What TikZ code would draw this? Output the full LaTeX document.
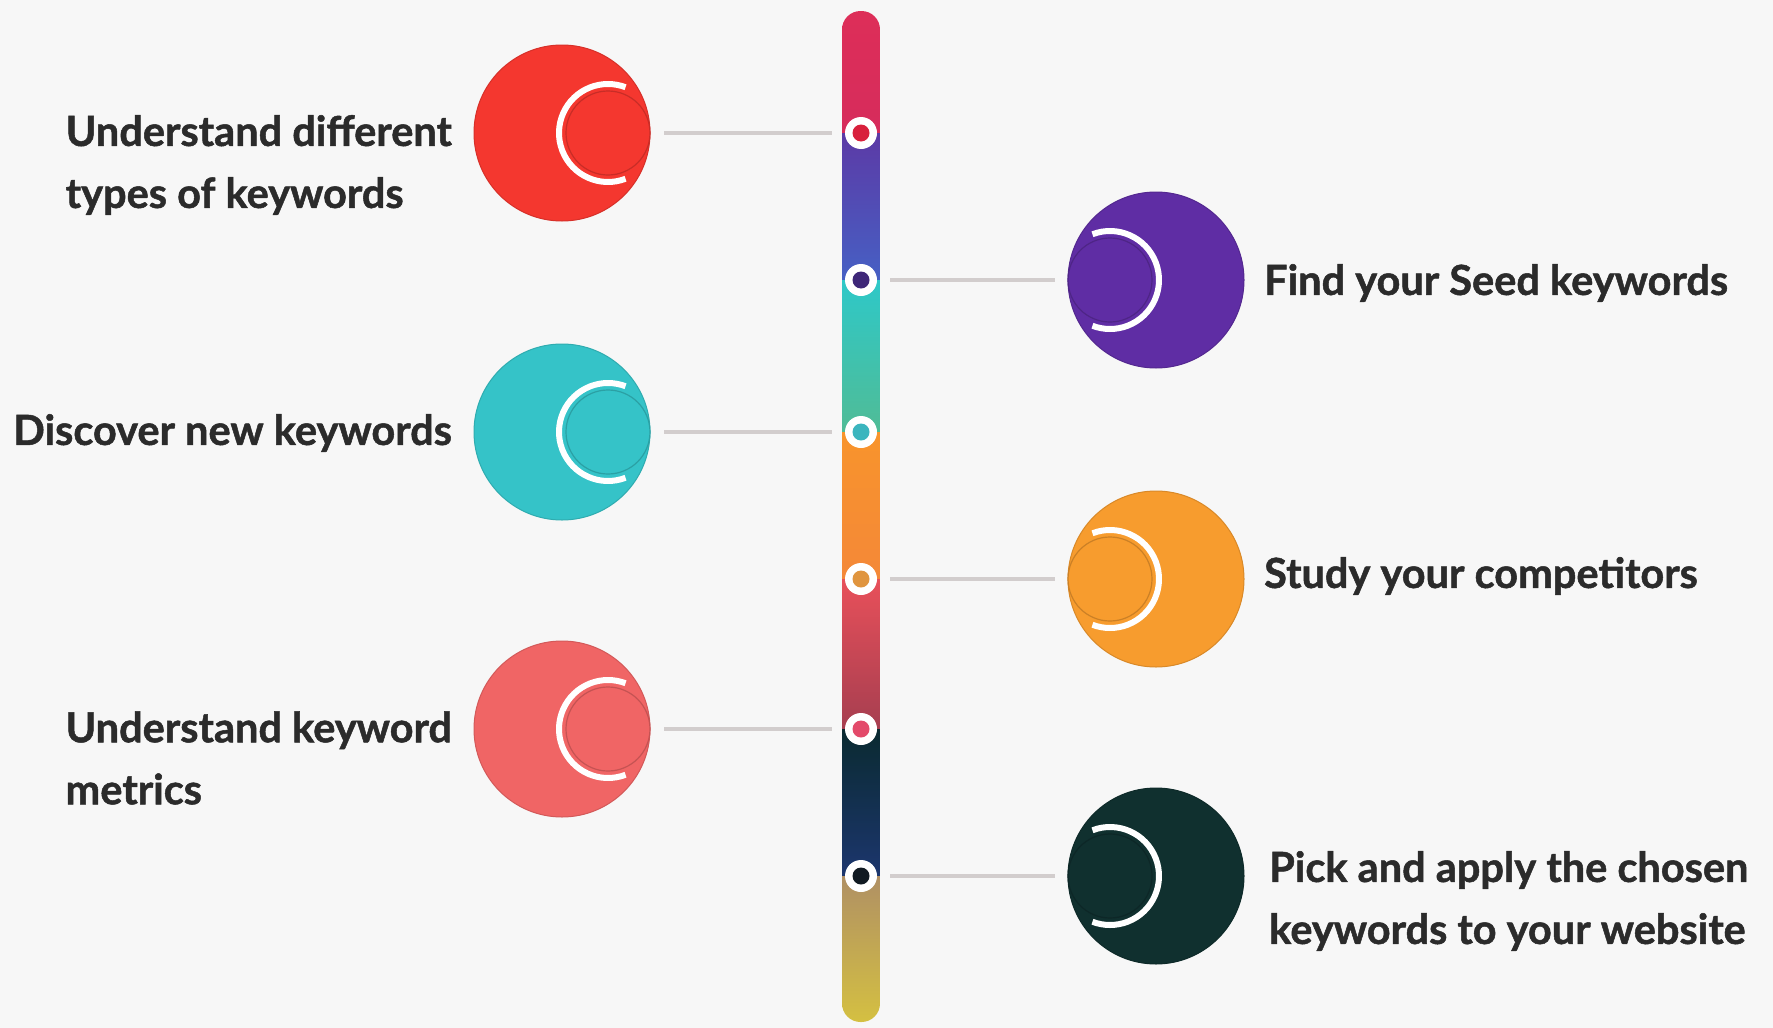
\documentclass[tikz,border=0pt]{standalone}
\usepackage{fontspec}
\setmainfont{Lato}[BoldFeatures={FakeBold=1.2}]
\usetikzlibrary{calc}
\definecolor{cRed}{HTML}{F4372F}
\definecolor{cPurple}{HTML}{5F2DA4}
\definecolor{cTeal}{HTML}{35C3C8}
\definecolor{cOrange}{HTML}{F79C2E}
\definecolor{cSalmon}{HTML}{F06565}
\definecolor{cDark}{HTML}{10302F}
\definecolor{dRed}{HTML}{D8203C}
\definecolor{dPurple}{HTML}{3E2778}
\definecolor{dTeal}{HTML}{3BB5BE}
\definecolor{dOrange}{HTML}{E0953F}
\definecolor{dSalmon}{HTML}{E34A6A}
\definecolor{dDark}{HTML}{111A22}
\definecolor{txt}{HTML}{2B2B2B}
\definecolor{linkgrey}{HTML}{D2CDCD}
\definecolor{bg}{HTML}{F7F7F7}
\begin{document}
\begin{tikzpicture}[x=1pt,y=-1pt,
  disc/.style={circle, inner sep=0pt, minimum size=176pt},
  dotnode/.style={circle, fill=white, inner sep=0pt, minimum size=32pt},
  link/.style={draw=linkgrey, line width=3.5pt, shorten <=13pt, shorten >=13pt},
  lbl/.style={font=\bfseries\fontsize{41.5}{62}\selectfont, text=txt, align=left, inner sep=0pt}
]
\useasboundingbox (0,0) rectangle (1773,1028);
\fill[bg] (0,0) rectangle (1773,1028);

% vertical bar
\begin{scope}
\clip[rounded corners=18.5pt] (842,11) rectangle (880,1022);
\shade[top color={rgb,255:red,222;green,46;blue,88}, bottom color={rgb,255:red,214;green,44;blue,92}] (842,0) rectangle (880,133);
\shade[top color={rgb,255:red,92;green,58;blue,166}, bottom color={rgb,255:red,70;green,96;blue,196}] (842,133) rectangle (880,280);
\shade[top color={rgb,255:red,46;green,200;blue,200}, bottom color={rgb,255:red,80;green,188;blue,150}] (842,280) rectangle (880,432);
\shade[top color={rgb,255:red,248;green,148;blue,44}, bottom color={rgb,255:red,244;green,136;blue,56}] (842,432) rectangle (880,579);
\shade[top color={rgb,255:red,232;green,80;blue,90}, bottom color={rgb,255:red,166;green,62;blue,80}] (842,579) rectangle (880,729);
\shade[top color={rgb,255:red,10;green,42;blue,48}, bottom color={rgb,255:red,28;green,54;blue,110}] (842,729) rectangle (880,876);
\shade[top color={rgb,255:red,176;green,144;blue,100}, bottom color={rgb,255:red,214;green,194;blue,64}] (842,876) rectangle (880,1028);
\end{scope}

% discs
\foreach \nm/\xx/\yy/\col/\dir in {c1/562/133/cRed/1, c2/1156/280/cPurple/-1, c3/562/432/cTeal/1, c4/1156/579/cOrange/-1, c5/562/729/cSalmon/1, c6/1156/876/cDark/-1}{
  \node[disc, fill=\col, draw=\col!88!black, line width=1pt] (\nm) at (\xx,\yy) {};
  \fill[\col, draw=\col!82!black, line width=1.2pt] ($(\nm.center)+(46*\dir,0)$) circle (42);
  \draw[white, line width=6pt] ($(\nm.center)+(46*\dir,0)+({-21+90*\dir}:49)$) arc[start angle={-21+90*\dir}, delta angle=222, radius=49];
}

% dots on the bar
\foreach \nm/\yy/\col in {d1/133/dRed, d2/280/dPurple, d3/432/dTeal, d4/579/dOrange, d5/729/dSalmon, d6/876/dDark}{
  \node[dotnode] (\nm) at (861,\yy) {};
  \fill[\col] (\nm.center) circle (8.5);
}

% connectors
\draw[link] (d1) -- (c1);
\draw[link] (d2) -- (c2);
\draw[link] (d3) -- (c3);
\draw[link] (d4) -- (c4);
\draw[link] (d5) -- (c5);
\draw[link] (d6) -- (c6);

% labels
\node[lbl, anchor=east] (t1) at (452,165) {Understand different\\types of keywords};
\node[lbl, anchor=west] (t2) at (1264,283) {Find your Seed keywords};
\node[lbl, anchor=east] (t3) at (452,433) {Discover new keywords};
\node[lbl, anchor=west] (t4) at (1264,576) {Study your competitors};
\node[lbl, anchor=east] (t5) at (452,758) {Understand keyword\\metrics};
\node[lbl, anchor=west] (t6) at (1269,901) {Pick and apply the chosen\\keywords to your website};
\end{tikzpicture}
\end{document}
